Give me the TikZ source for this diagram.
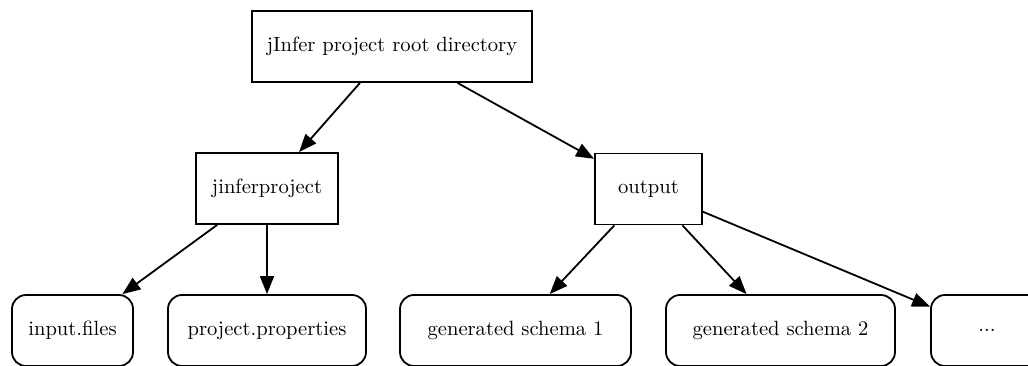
\documentclass[tikz,border=0pt]{standalone}
\usetikzlibrary{arrows.meta}

\tikzset{
  dirbox/.style={draw, line width=0.9pt, minimum height=35.5pt, inner sep=2pt, font=\fontsize{10.3}{12}\selectfont},
  filebox/.style={draw, line width=0.9pt, rounded corners=7pt, minimum height=35.5pt, inner sep=2pt, font=\fontsize{10.3}{12}\selectfont},
  edge/.style={line width=0.9pt, -{Triangle[length=9pt, width=7pt]}}
}

\begin{document}
\begin{tikzpicture}[x=0.5pt, y=-0.5pt]
\clip (0,0) rectangle (1028,365);
\useasboundingbox (0,0) rectangle (1028,365);

% Directories
\node[dirbox, minimum width=140pt] (root) at (392,46.5) {jInfer project root directory};
\node[dirbox, minimum width=71pt] (jinfer) at (267,188.5) {jinferproject};
\node[dirbox, minimum width=53.5pt] (output) at (648.5,189) {output};

% Files
\node[filebox, minimum width=60.5pt] (input) at (72.5,330.5) {input.files};
\node[filebox, minimum width=99pt] (props) at (267,330.5) {project.properties};
\node[filebox, minimum width=115.5pt] (gen1) at (515.5,330.5) {generated schema 1};
\node[filebox, minimum width=114.5pt] (gen2) at (780.5,330.5) {generated schema 2};
\node[filebox, minimum width=56pt] (dots) at (987,330.5) {...};

% Edges
\draw[edge] (root) -- (jinfer);
\draw[edge] (root) -- (output);
\draw[edge] (jinfer) -- (input);
\draw[edge] (jinfer) -- (props);
\draw[edge] (output) -- (gen1);
\draw[edge] (output) -- (gen2);
\draw[edge] (output) -- (dots);
\end{tikzpicture}
\end{document}
